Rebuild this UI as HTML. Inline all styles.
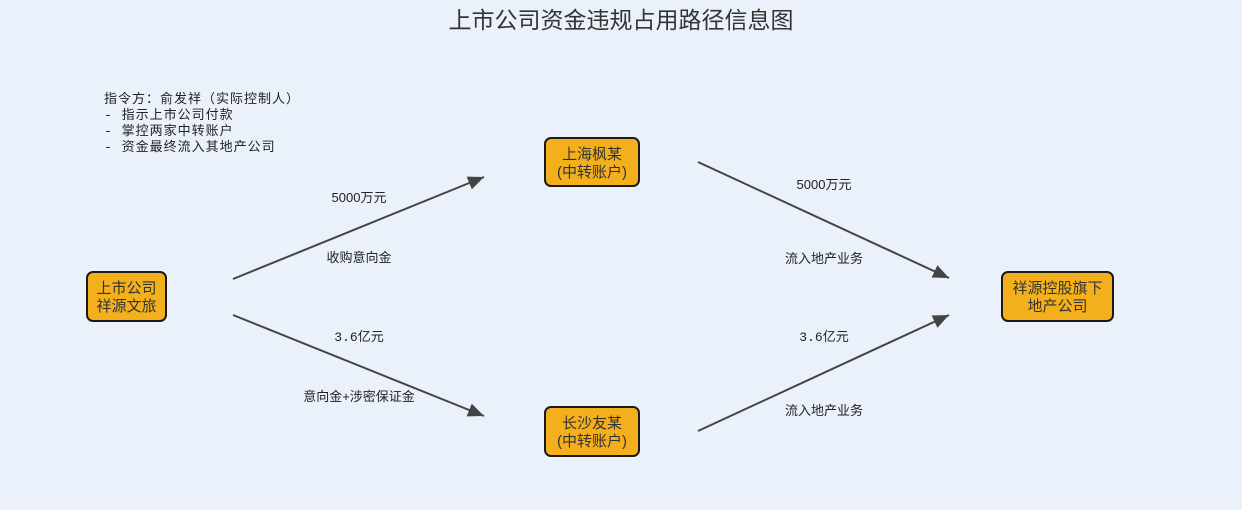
<!DOCTYPE html>
<html><head><meta charset="utf-8"><style>
html,body{margin:0;padding:0;background:#eaf1fb;}
svg{display:block;}
text{font-family:"Liberation Sans","Noto Sans CJK SC",sans-serif;}
.m{font-family:"Liberation Mono","Noto Sans CJK SC",monospace;}
</style></head><body>
<svg width="1242" height="510" viewBox="0 0 1242 510" xmlns="http://www.w3.org/2000/svg">
<defs>
<marker id="a" markerWidth="16" markerHeight="14" refX="14" refY="6" orient="auto" markerUnits="userSpaceOnUse" viewBox="0 0 14 12">
<path d="M0,0 L14,6 L0,12 z" fill="#444"/>
</marker>
</defs>
<rect width="1242" height="510" fill="#eaf1fb"/>
<text x="621" y="28" text-anchor="middle" font-size="23" fill="#333">上市公司资金违规占用路径信息图</text>
<g font-size="13" fill="#222" letter-spacing="1">
<text class="m" x="104" y="103">指令方：俞发祥（实际控制人）</text>
<text class="m" x="104" y="119">- 指示上市公司付款</text>
<text class="m" x="104" y="135">- 掌控两家中转账户</text>
<text class="m" x="104" y="151">- 资金最终流入其地产公司</text>
</g>
<g stroke="#444" stroke-width="2" fill="none">
<line x1="233" y1="279" x2="484" y2="177" marker-end="url(#a)"/>
<line x1="233" y1="315" x2="484" y2="416" marker-end="url(#a)"/>
<line x1="698" y1="162" x2="949" y2="278" marker-end="url(#a)"/>
<line x1="698" y1="431" x2="949" y2="315" marker-end="url(#a)"/>
</g>
<g font-size="13" fill="#222" text-anchor="middle">
<text x="359" y="202">5000万元</text>
<text x="359" y="262">收购意向金</text>
<text class="m" x="359" y="341">3.6亿元</text>
<text x="359" y="401">意向金+涉密保证金</text>
<text x="824" y="189">5000万元</text>
<text x="824" y="263">流入地产业务</text>
<text class="m" x="824" y="341">3.6亿元</text>
<text x="824" y="415">流入地产业务</text>
</g>
<g fill="#f4b01c" stroke="#1a1a1a" stroke-width="2">
<rect x="87" y="272" width="79" height="49" rx="6"/>
<rect x="545" y="138" width="94" height="48" rx="6"/>
<rect x="545" y="407" width="94" height="49" rx="6"/>
<rect x="1002" y="272" width="111" height="49" rx="6"/>
</g>
<g font-size="15" fill="#333" text-anchor="middle">
<text x="126.5" y="293">上市公司</text>
<text x="126.5" y="311">祥源文旅</text>
<text x="592" y="159">上海枫某</text>
<text x="592" y="177">(中转账户)</text>
<text x="592" y="428">长沙友某</text>
<text x="592" y="446">(中转账户)</text>
<text x="1057.5" y="293">祥源控股旗下</text>
<text x="1057.5" y="311">地产公司</text>
</g>
</svg>
</body></html>
